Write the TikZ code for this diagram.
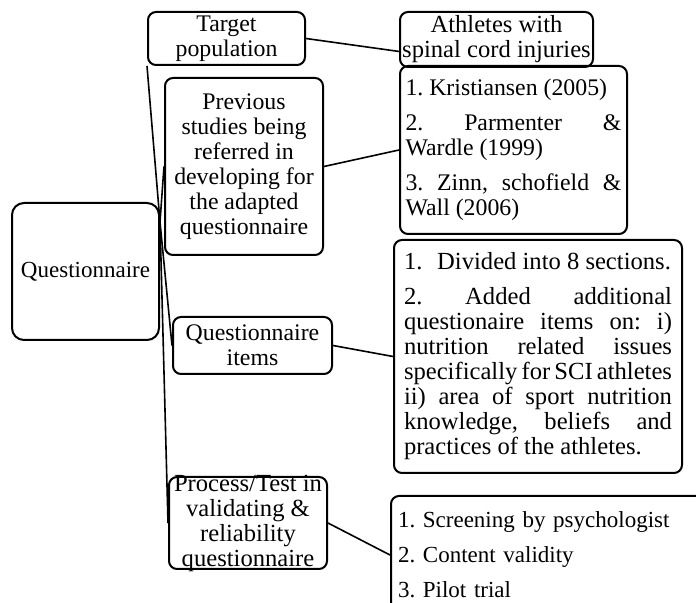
\documentclass[tikz,border=0pt]{standalone}
\usepackage{fontspec}
\setmainfont{Liberation Serif}

\begin{document}
\begin{tikzpicture}[
    x=0.5pt, y=-0.5pt,
    box/.style={draw, rounded corners=4pt, line width=1pt, align=center, inner sep=0pt,
                font=\fontsize{11.9}{12.5}\selectfont},
    bigtext/.style={font=\fontsize{12.3}{12.5}\selectfont},
    listbox/.style={box, align=justify,
                    execute at begin node={\setlength{\parskip}{5pt}\parindent=0pt\hyphenpenalty=10000 \frenchspacing}},
    link/.style={line width=0.8pt},
]
\clip (0,0) rectangle (696,603);

% left column
\node[box, rounded corners=6pt, minimum width=73.5pt, minimum height=68.5pt, font=\fontsize{11.5}{12.5}\selectfont] (q) at (85.5,271.5) {Questionnaire};
\node[box, minimum width=78.5pt, minimum height=26.5pt] (target) at (226.5,38.5) {Target\\population};
\node[box, minimum width=79pt, minimum height=88.5pt] (prev) at (244,166.5)
    {Previous\\studies being\\referred in\\developing for\\the adapted\\questionnaire};
\node[box, minimum width=79.5pt, minimum height=28.5pt] (items) at (252.5,345.5) {Questionnaire\\items};
\node[box, bigtext, minimum width=79pt, minimum height=46pt, inner ysep=-1.6pt] (proc) at (248,523)
    {Process/Test in\\validating \&\\reliability\\questionnaire};

% right column
\node[box, bigtext, minimum width=96.5pt, minimum height=27.5pt] (athletes) at (496.5,39.5) {Athletes with\\spinal cord injuries};
\node[listbox, text width=108pt, inner xsep=2.75pt, minimum height=84pt] (krist) at (513.5,150)
    {1. Kristiansen (2005)\par
     2. Parmenter \&\linebreak Wardle (1999)\par
     3. Zinn, schofield \&\linebreak Wall (2006)};
\node[listbox, bigtext, text width=134pt, inner xsep=5pt, minimum height=116.5pt] (divided) at (538,356.5)
    {1.\hspace{0.6em}Divided into 8 sections.\par
     2. Added additional\linebreak questionaire items on: i)\linebreak nutrition related issues\linebreak
     specifically for SCI athletes\linebreak ii) area of sport nutrition\linebreak knowledge, beliefs and\linebreak
     practices of the athletes.};
\node[listbox, align=left, anchor=north west, text width=170pt, inner xsep=3.5pt, minimum height=59pt,
      font=\fontsize{11.5}{12.5}\selectfont] (screen) at (390,495)
    {1. Screening by psychologist\par
     2. Content validity\par
     3. Pilot trial};

% connectors
\coordinate (hub) at (160,222);
\foreach \b in {target.south west, prev.west, items.west, proc.west}{
    \draw[link] (hub) -- (\b);
}
\foreach \a/\b in {target.east/athletes.187, prev.east/krist.west, items.east/divided.west, proc.east/screen.west}{
    \draw[link] (\a) -- (\b);
}

\end{tikzpicture}
\end{document}
